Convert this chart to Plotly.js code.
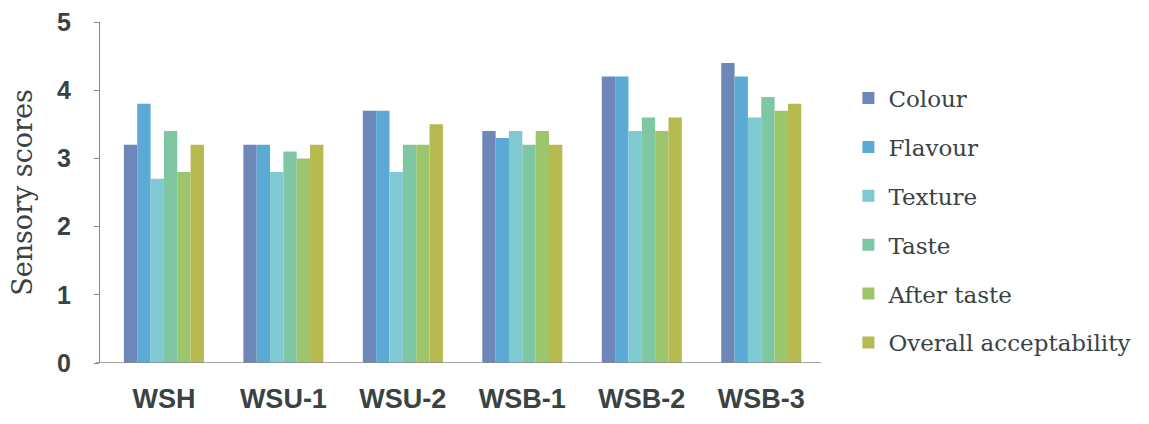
<!DOCTYPE html>
<html>
<head>
<meta charset="utf-8">
<script src="https://cdn.plot.ly/plotly-3.0.1.min.js"></script>
<style>
  html, body { margin: 0; padding: 0; background: #ffffff; }
  #chart { width: 1149px; height: 424px; }
</style>
</head>
<body>
<div id="chart"></div>
<script>
// Samples on the x axis
const samples = ['WSH', 'WSU-1', 'WSU-2', 'WSB-1', 'WSB-2', 'WSB-3'];

// Sensory attributes (one bar series each)
const attributes = ['Colour', 'Flavour', 'Texture', 'Taste', 'After taste', 'Overall acceptability'];

// Mean sensory scores per attribute, in sample order
const colour      = [3.2, 3.2, 3.7, 3.4, 4.2, 4.4];
const flavour     = [3.8, 3.2, 3.7, 3.3, 4.2, 4.2];
const texture     = [2.7, 2.8, 2.8, 3.4, 3.4, 3.6];
const taste       = [3.4, 3.1, 3.2, 3.2, 3.6, 3.9];
const afterTaste  = [2.8, 3.0, 3.2, 3.4, 3.4, 3.7];
const overall     = [3.2, 3.2, 3.5, 3.2, 3.6, 3.8];

const yTicks = [0, 1, 2, 3, 4, 5];

const seriesValues = [colour, flavour, texture, taste, afterTaste, overall];
const seriesColors = ['#6d87b9', '#5ba9d5', '#7fc9d3', '#7fc6a3', '#9dc66c', '#b7ba4f'];

const traces = attributes.map((name, i) => ({
  type: 'bar',
  name: name,
  x: samples,
  y: seriesValues[i],
  legendgroup: 'g' + i,
  marker: { color: seriesColors[i], line: { width: 0 } },
  hoverinfo: 'name+y'
}));

const textColor = '#394343';
const serif = '"DejaVu Serif", "Liberation Serif", serif';

const layout = {
  width: 1149,
  height: 424,
  margin: { l: 100, r: 328, t: 22, b: 61 },
  paper_bgcolor: '#ffffff',
  plot_bgcolor: '#ffffff',
  barmode: 'group',
  bargap: 0.33,
  bargroupgap: 0,
  showlegend: true,
  legend: {
    x: 1.038, xanchor: 'left',
    y: 0.84, yanchor: 'top',
    font: { family: serif, size: 23, color: textColor },
    tracegroupgap: 16,
    itemwidth: 30,
    bgcolor: 'rgba(0,0,0,0)'
  },
  xaxis: {
    type: 'category',
    range: [-0.535, 5.5],
    showline: false,
    showgrid: false,
    zeroline: false,
    ticks: '',
    tickfont: { family: 'Liberation Sans, Arial, sans-serif', size: 27, color: textColor, weight: 'bold' },
    ticklabelstandoff: 17
  },
  yaxis: {
    range: [0, 5],
    tickvals: yTicks,
    ticktext: yTicks.map(String),
    showline: true,
    linecolor: '#8a8a8a',
    linewidth: 1,
    ticks: 'outside',
    ticklen: 5,
    tickcolor: '#8a8a8a',
    showgrid: false,
    zeroline: false,
    tickfont: { family: 'Liberation Sans, Arial, sans-serif', size: 25, color: textColor, weight: 'bold' },
    ticklabelstandoff: 18,
    title: {
      text: 'Sensory scores',
      font: { family: serif, size: 27, color: textColor },
      standoff: 16
    }
  },
  shapes: [{
    type: 'line', xref: 'paper', yref: 'y',
    x0: -0.006, x1: 1, y0: 0, y1: 0,
    line: { color: '#8a8a8a', width: 1.5 }
  }]
};

Plotly.newPlot('chart', traces, layout, { displayModeBar: false, staticPlot: true });
</script>
</body>
</html>
